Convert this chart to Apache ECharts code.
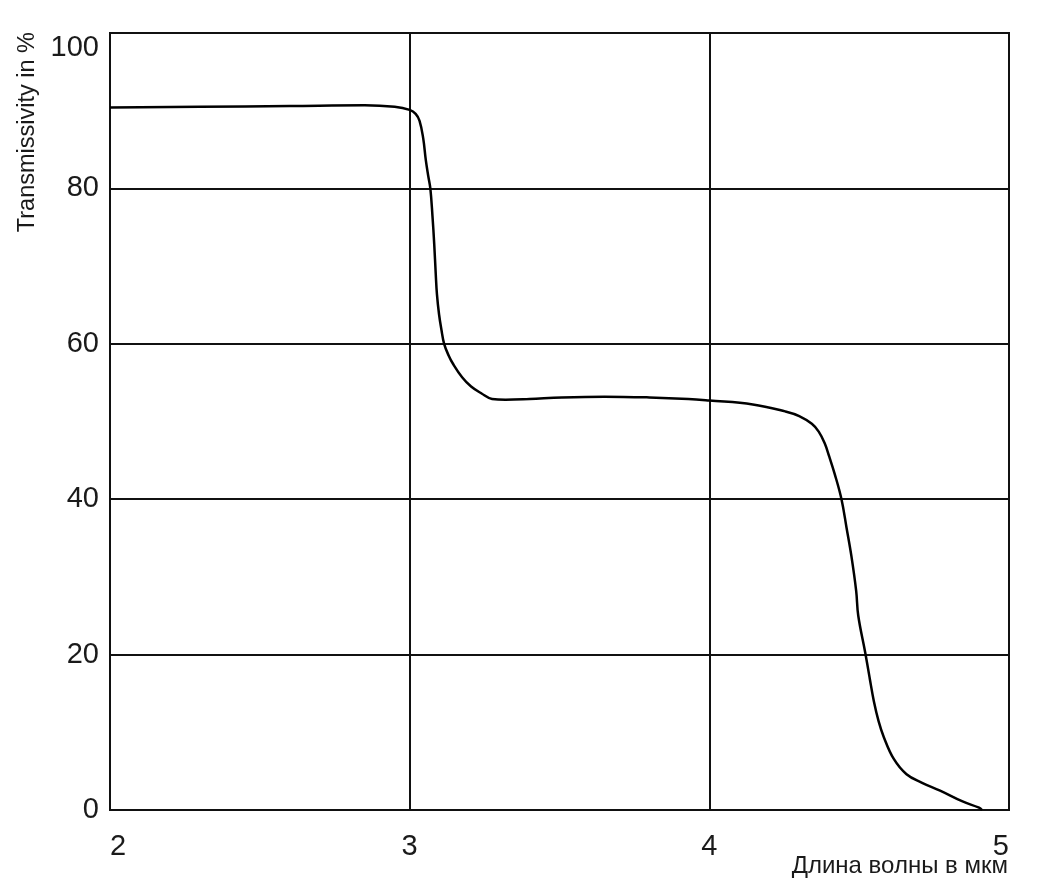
<!DOCTYPE html>
<html>
<head>
<meta charset="utf-8">
<script src="https://cdn.jsdelivr.net/npm/echarts@6/dist/echarts.min.js"></script>
<style>
  html, body { margin: 0; padding: 0; background: #fff; }
  #chart { width: 1040px; height: 890px; }
</style>
</head>
<body>
<div id="chart"></div>
<script>
// Wavelength in µm
var wavelength = [2.0, 2.3, 2.6, 2.85, 2.95, 3.0, 3.02, 3.033, 3.045, 3.054, 3.062, 3.069, 3.076, 3.082, 3.087, 3.091, 3.098, 3.106, 3.115, 3.13, 3.145, 3.175, 3.205, 3.24, 3.275, 3.32, 3.4, 3.508, 3.65, 3.8, 3.93, 4.0, 4.145, 4.253, 4.30, 4.342, 4.365, 4.385, 4.40, 4.418, 4.441, 4.458, 4.474, 4.49, 4.497, 4.52, 4.535, 4.549, 4.565, 4.582, 4.615, 4.658, 4.71, 4.77, 4.845, 4.90, 4.91];
// Transmissivity in %
var transmissivity = [90.4, 90.5, 90.6, 90.7, 90.5, 90.1, 89.6, 88.7, 86.5, 83.6, 81.6, 80.0, 76.5, 72.8, 69.0, 66.4, 63.8, 61.8, 60.0, 58.5, 57.4, 55.7, 54.5, 53.6, 52.9, 52.8, 52.9, 53.1, 53.2, 53.1, 52.9, 52.7, 52.2, 51.3, 50.7, 49.7, 48.7, 47.2, 45.5, 43.3, 40.0, 36.3, 32.7, 28.2, 25.0, 20.3, 17.0, 14.0, 11.4, 9.4, 6.6, 4.6, 3.5, 2.5, 1.1, 0.3, 0.0];
var xTicks = [2, 3, 4, 5];
var yTicks = [0, 20, 40, 60, 80, 100];
var xName = 'Длина волны в мкм';
var yName = 'Transmissivity in %';

var points = wavelength.map(function (w, i) { return [w, transmissivity[i]]; });

var chart = echarts.init(document.getElementById('chart'), null, { renderer: 'canvas' });
var font = '"Liberation Sans", Arial, Helvetica, sans-serif';
chart.setOption({
  backgroundColor: '#ffffff',
  animation: false,
  grid: {
    left: 110, right: 31, top: 33, bottom: 80,
    show: true, borderColor: '#111', borderWidth: 2, backgroundColor: 'transparent'
  },
  xAxis: {
    type: 'value',
    min: xTicks[0], max: xTicks[xTicks.length - 1], interval: 1,
    axisLine: { show: true, lineStyle: { color: '#111', width: 2 } },
    axisTick: { show: false },
    splitLine: { show: true, lineStyle: { color: '#111', width: 2 } },
    axisLabel: {
      margin: 22, color: '#1a1a1a', fontSize: 29, fontFamily: font,
      alignMinLabel: 'left', alignMaxLabel: 'right'
    }
  },
  yAxis: {
    type: 'value',
    min: yTicks[0], max: yTicks[yTicks.length - 1], interval: 20,
    axisLine: { show: true, lineStyle: { color: '#111', width: 2 } },
    axisTick: { show: false },
    splitLine: { show: true, lineStyle: { color: '#111', width: 2 } },
    axisLabel: {
      margin: 11, color: '#1a1a1a', fontSize: 29, fontFamily: font,
      verticalAlignMaxLabel: 'top'
    }
  },
  graphic: [
    {
      type: 'text', x: 28, y: 32, rotation: Math.PI / 2,
      style: {
        text: yName, fill: '#1a1a1a', font: '23.5px ' + font,
        textAlign: 'right', textVerticalAlign: 'middle'
      }
    },
    {
      type: 'text', x: 1008, y: 866,
      style: {
        text: xName, fill: '#1a1a1a', font: '24px ' + font,
        textAlign: 'right', textVerticalAlign: 'middle'
      }
    }
  ],
  series: [{
    type: 'line',
    data: points,
    showSymbol: false,
    smooth: 0.4,
    clip: false,
    lineStyle: { color: '#000', width: 2.5 }
  }]
});
</script>
</body>
</html>
